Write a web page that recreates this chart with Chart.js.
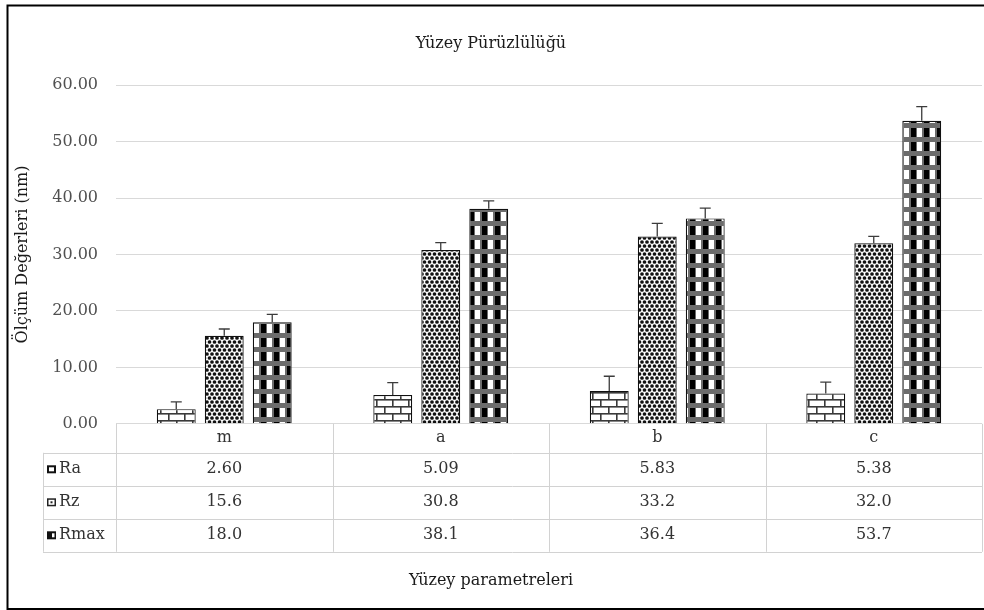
<!DOCTYPE html>
<html>
<head>
<meta charset="utf-8">
<script src="https://cdn.jsdelivr.net/npm/chart.js@4/dist/chart.umd.min.js"></script>
<style>
  html, body { margin: 0; padding: 0; background: #ffffff; overflow: hidden; }
  #wrap { width: 984px; height: 610px; }
</style>
</head>
<body>
<div id="wrap"><canvas id="c" width="984" height="610"></canvas></div>
<script>
// Surface roughness parameters per sample
const categories = ['m', 'a', 'b', 'c'];
const seriesNames = ['Ra', 'Rz', 'Rmax'];
const raValues   = [2.60, 5.09, 5.83, 5.38];
const rzValues   = [15.6, 30.8, 33.2, 32.0];
const rmaxValues = [18.0, 38.1, 36.4, 53.7];
// Standard deviations (upper error bars)
const raErrors   = [1.3, 2.2, 2.6, 2.0];
const rzErrors   = [1.2, 1.3, 2.3, 1.2];
const rmaxErrors = [1.4, 1.4, 1.8, 2.5];
// Decimals shown in the data table for each series
const tableDecimals = [2, 1, 1];
const yTicks = [0, 10, 20, 30, 40, 50, 60];

const FONT = 'DejaVu Serif';

// ---- fill patterns ----
function makeTile(w, h, draw) {
  const cv = document.createElement('canvas');
  cv.width = w; cv.height = h;
  const g = cv.getContext('2d');
  draw(g, w, h);
  return document.getElementById('c').getContext('2d').createPattern(cv, 'repeat');
}
// brick
const brickPattern = makeTile(16, 14, (g, w, h) => {
  g.fillStyle = '#ffffff'; g.fillRect(0, 0, w, h);
  g.fillStyle = '#3a3a3a';
  g.fillRect(0, 0, w, 1.6);
  g.fillRect(0, 7, w, 1.6);
  g.fillRect(0, 0, 1.6, 7);
  g.fillRect(8, 7, 1.6, 7);
});
// dots
const dotPattern = makeTile(10, 8, (g, w, h) => {
  g.fillStyle = '#ffffff'; g.fillRect(0, 0, w, h);
  g.fillStyle = '#111111';
  [[2, 2], [7, 2], [4.5, 6], [9.5, 6], [-0.5, 6]].forEach(([x, y]) => {
    g.beginPath(); g.arc(x, y, 1.85, 0, Math.PI * 2); g.fill();
  });
});
// checker / grid
const checkPattern = makeTile(13, 14, (g, w, h) => {
  g.fillStyle = '#6c6c6c'; g.fillRect(0, 0, w, h);
  g.fillStyle = '#000000'; g.fillRect(1, 2, 5, 9);
  g.fillStyle = '#ffffff'; g.fillRect(7, 2, 5, 9);
});

const seriesValues = [raValues, rzValues, rmaxValues];
const seriesErrors = [raErrors, rzErrors, rmaxErrors];
const seriesFills = [brickPattern, dotPattern, checkPattern];

// ---- plugins ----
const frame = {
  id: 'frame',
  afterDraw(chart) {
    const ctx = chart.ctx;
    ctx.save();
    ctx.strokeStyle = '#000000';
    ctx.lineWidth = 2;
    ctx.beginPath();
    ctx.moveTo(984, 5.5);
    ctx.lineTo(7.5, 5.5);
    ctx.lineTo(7.5, 609);
    ctx.lineTo(984, 609);
    ctx.stroke();
    ctx.restore();
  }
};

const errorBars = {
  id: 'errorBars',
  afterDatasetsDraw(chart) {
    const ctx = chart.ctx;
    const y = chart.scales.y;
    ctx.save();
    ctx.strokeStyle = '#3c3c3c';
    ctx.lineWidth = 1.3;
    chart.data.datasets.forEach((ds, di) => {
      const meta = chart.getDatasetMeta(di);
      meta.data.forEach((bar, i) => {
        const top = y.getPixelForValue(ds.data[i] + seriesErrors[di][i]);
        ctx.beginPath();
        ctx.moveTo(bar.x, bar.y);
        ctx.lineTo(bar.x, top);
        ctx.moveTo(bar.x - 5.5, top);
        ctx.lineTo(bar.x + 5.5, top);
        ctx.stroke();
      });
    });
    ctx.restore();
  }
};

function drawIcon(ctx, idx, x, y) {
  ctx.save();
  if (idx === 0) {
    ctx.fillStyle = '#111'; ctx.fillRect(x, y, 9, 8);
    ctx.fillStyle = '#fff'; ctx.fillRect(x + 2, y + 2, 5, 4);
  } else if (idx === 1) {
    ctx.fillStyle = '#222'; ctx.fillRect(x, y, 9, 8);
    ctx.fillStyle = '#fff'; ctx.fillRect(x + 1.5, y + 1.5, 6, 5);
    ctx.fillStyle = '#222'; ctx.fillRect(x + 3.5, y + 3, 2, 2);
  } else {
    ctx.fillStyle = '#111'; ctx.fillRect(x, y, 9, 8);
    ctx.fillStyle = '#fff'; ctx.fillRect(x + 5, y + 2, 2.5, 4);
  }
  ctx.restore();
}

const dataTable = {
  id: 'dataTable',
  afterDraw(chart) {
    const ctx = chart.ctx;
    const xs = chart.scales.x;
    const area = chart.chartArea;
    const colW = (xs.right - xs.left) / categories.length;
    const top = area.bottom;
    const headH = 29, rowH = 33, legendLeft = 43;
    const rowsTop = top + headH;
    const bottom = rowsTop + rowH * seriesNames.length;

    ctx.save();
    ctx.strokeStyle = '#d2d2d2';
    ctx.lineWidth = 1;
    ctx.beginPath();
    // vertical lines
    for (let i = 0; i <= categories.length; i++) {
      const x = Math.round(xs.left + colW * i) + 0.5;
      ctx.moveTo(x, top); ctx.lineTo(x, bottom);
    }
    ctx.moveTo(legendLeft + 0.5, rowsTop); ctx.lineTo(legendLeft + 0.5, bottom);
    // horizontal lines
    for (let r = 0; r <= seriesNames.length; r++) {
      const y = Math.round(rowsTop + rowH * r) + 0.5;
      ctx.moveTo(legendLeft, y); ctx.lineTo(xs.right, y);
    }
    ctx.stroke();

    ctx.fillStyle = '#333333';
    ctx.font = '16px "' + FONT + '"';
    ctx.textAlign = 'center';
    ctx.textBaseline = 'middle';
    categories.forEach((c, i) => {
      ctx.fillText(c, xs.getPixelForValue(i), top + headH / 2);
    });
    seriesNames.forEach((name, r) => {
      const cy = rowsTop + rowH * r + rowH / 2;
      seriesValues[r].forEach((v, i) => {
        ctx.fillText(v.toFixed(tableDecimals[r]), xs.getPixelForValue(i), cy);
      });
      drawIcon(ctx, r, legendLeft + 4, cy - 4);
      ctx.textAlign = 'left';
      ctx.fillText(name, legendLeft + 16, cy);
      ctx.textAlign = 'center';
    });
    ctx.restore();
  }
};

new Chart(document.getElementById('c'), {
  type: 'bar',
  data: {
    labels: categories,
    datasets: seriesNames.map((name, i) => ({
      label: name,
      data: seriesValues[i],
      backgroundColor: seriesFills[i],
      borderColor: '#111111',
      borderWidth: 1.2,
      categoryPercentage: 0.665,
      barPercentage: 0.81
    }))
  },
  options: {
    responsive: false,
    devicePixelRatio: 1,
    animation: false,
    layout: { padding: { left: 0, right: 2, top: 0, bottom: 0 } },
    plugins: {
      legend: { display: false },
      tooltip: { enabled: false },
      title: {
        display: true,
        text: 'Yüzey Pürüzlülüğü',
        color: '#1a1a1a',
        font: { family: FONT, size: 16, weight: 'normal' },
        padding: { top: 34, bottom: 32 }
      },
      subtitle: {
        display: true,
        position: 'bottom',
        text: 'Yüzey parametreleri',
        color: '#1a1a1a',
        font: { family: FONT, size: 16, weight: 'normal' },
        padding: { top: 8, bottom: 20 }
      }
    },
    scales: {
      x: {
        grid: { display: false },
        border: { display: false },
        ticks: { display: false },
        afterFit(scale) { scale.height = 139; }
      },
      y: {
        min: 0,
        max: 60,
        afterBuildTicks(scale) { scale.ticks = yTicks.map(v => ({ value: v })); },
        grid: { color: '#d9d9d9', lineWidth: 1, drawTicks: false },
        border: { display: false },
        ticks: {
          padding: 18,
          color: '#505050',
          font: { family: FONT, size: 16 },
          callback: v => Number(v).toFixed(2)
        },
        title: {
          display: true,
          text: 'Ölçüm Değerleri (nm)',
          color: '#1a1a1a',
          font: { family: FONT, size: 16 },
          padding: { top: 13, bottom: 0 }
        },
        afterFit(scale) { scale.width = 116; }
      }
    }
  },
  plugins: [errorBars, dataTable, frame]
});
</script>
</body>
</html>
